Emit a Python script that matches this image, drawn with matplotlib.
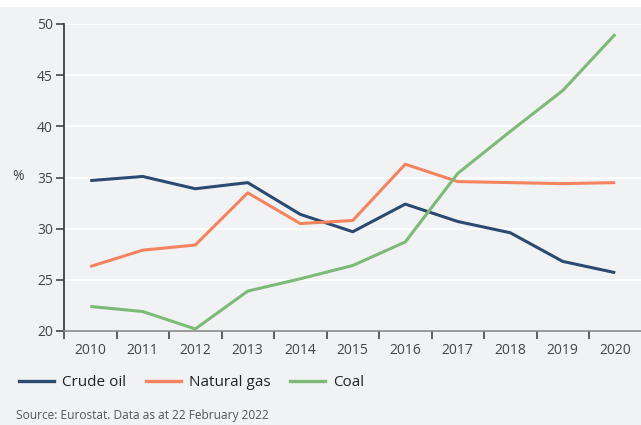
import matplotlib
matplotlib.use("Agg")
import matplotlib.pyplot as plt
from matplotlib.patches import Rectangle
from matplotlib.lines import Line2D

years = ["2010", "2011", "2012", "2013", "2014", "2015", "2016", "2017", "2018", "2019", "2020"]
crude_oil = [34.7, 35.1, 33.9, 34.5, 31.4, 29.7, 32.4, 30.7, 29.6, 26.8, 25.7]
natural_gas = [26.3, 27.9, 28.4, 33.5, 30.5, 30.8, 36.3, 34.6, 34.5, 34.4, 34.5]
coal = [22.4, 21.9, 20.2, 23.9, 25.1, 26.4, 28.7, 35.4, 39.5, 43.5, 49.0]
series_names = ["Crude oil", "Natural gas", "Coal"]
y_ticks = [20, 25, 30, 35, 40, 45, 50]

colors = ["#2b4a6f", "#f4845f", "#7dba78"]
bg = "#f1f2f4"
txt = "#444444"

plt.rcParams["font.family"] = ["Open Sans", "DejaVu Sans"]

W, H = 641, 425
fig = plt.figure(figsize=(W / 100, H / 100), dpi=100)
fig.patch.set_facecolor("white")
fig.add_artist(Rectangle((0, 0), 1, (H - 7) / H, transform=fig.transFigure,
                         facecolor=bg, edgecolor="none", zorder=-10))

ax = fig.add_axes([64 / W, (H - 331) / H, (641.5 - 64) / W, (331 - 24) / H])
ax.set_zorder(1)
ax.set_facecolor(bg)

x = list(range(len(years)))
for vals, c, name in zip([crude_oil, natural_gas, coal], colors, series_names):
    ax.plot(x, vals, color=c, lw=2.2, label=name, solid_capstyle="butt", zorder=3)

ax.set_xlim(-0.5, len(years) - 0.5)
ax.set_ylim(20, 50)
ax.set_yticks(y_ticks)
ax.set_yticklabels([str(v) for v in y_ticks], fontsize=10, color=txt)
ax.grid(axis="y", color="white", lw=1.3, zorder=1)
ax.set_axisbelow(True)

ax.set_xticks(x)
ax.set_xticklabels(years, fontsize=10, color=txt)
ax.set_xticks([i - 0.5 for i in range(len(years) + 1)], minor=True)
ax.tick_params(axis="x", which="major", length=0, pad=9)
ax.tick_params(axis="x", which="minor", length=6, width=1.2, color="#444444", direction="out")
ax.tick_params(axis="y", length=6, width=1.2, color="#444444", pad=2)

for s in ["top", "right"]:
    ax.spines[s].set_visible(False)
ax.spines["left"].set_color("#333333")
ax.spines["left"].set_linewidth(1.2)
ax.spines["bottom"].set_color("#888888")
ax.spines["bottom"].set_linewidth(1.2)

fig.text(18 / W, (H - 177) / H, "%", fontsize=10, color=txt, ha="center", va="center")

handles = [Line2D([0], [0], color=c, lw=2.4) for c in colors]
leg = fig.legend(handles, series_names, loc="center left", bbox_to_anchor=(13 / W, (H - 383) / H),
                 ncol=3, frameon=False, fontsize=11, handlelength=2.3, handletextpad=0.5,
                 columnspacing=1.3, borderaxespad=0)
for t in leg.get_texts():
    t.set_color("#222222")

fig.text(16 / W, (H - 416) / H, "Source: Eurostat. Data as at 22 February 2022",
         fontsize=8.6, color="#555555", ha="left", va="center")

fig.savefig("out.png", dpi=100, facecolor=fig.get_facecolor())
